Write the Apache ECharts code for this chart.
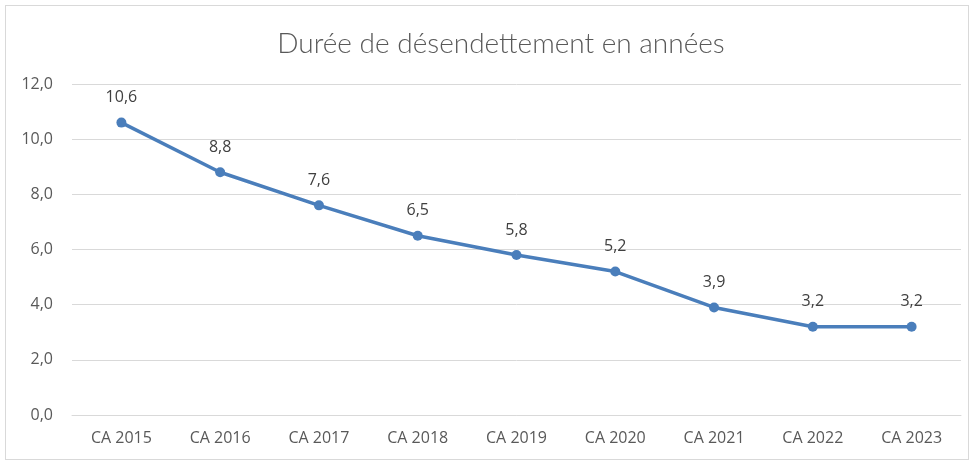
<!DOCTYPE html>
<html style="height: 100%;width: 100%">
<head>
    <meta charset="UTF-8">
    <script type="text/javascript" src="https://cdn.jsdelivr.net/npm/echarts@6/dist/echarts.min.js"></script>
    <title>Durée de désendettement</title>
    <style>
        body { margin: 0; background: #ffffff; }
        #main {
            position: absolute; left: 5px; top: 5px;
            width: 964px; height: 455px;
            border: 1px solid #d9d9d9; box-sizing: border-box;
        }
    </style>
</head>
<body>
<div id="main"></div>
<script type="text/javascript">
    // données
    var categories = ['CA 2015', 'CA 2016', 'CA 2017', 'CA 2018', 'CA 2019', 'CA 2020', 'CA 2021', 'CA 2022', 'CA 2023'];
    var durees = [10.6, 8.8, 7.6, 6.5, 5.8, 5.2, 3.9, 3.2, 3.2];
    var yTicks = [0, 2, 4, 6, 8, 10, 12];

    function virgule(v) {
        return v.toFixed(1).replace('.', ',');
    }

    var myChart = echarts.init(document.getElementById('main'));
    var option = {
        animation: false,
        title: {
            text: 'Durée de désendettement en années',
            left: 490,
            textAlign: 'center',
            top: 19,
            textStyle: {
                fontFamily: 'Lato',
                fontWeight: 300,
                fontSize: 28,
                color: '#595959'
            }
        },
        grid: { left: 66, right: 7, top: 78, bottom: 44 },
        xAxis: {
            type: 'category',
            data: categories,
            boundaryGap: true,
            axisLine: { lineStyle: { color: '#d9d9d9' } },
            axisTick: { show: false },
            axisLabel: { color: '#595959', fontSize: 16, fontFamily: 'Open Sans', margin: 15 }
        },
        yAxis: {
            type: 'value',
            min: yTicks[0],
            max: yTicks[yTicks.length - 1],
            interval: 2,
            axisLine: { show: false },
            axisTick: { show: false },
            splitLine: { lineStyle: { color: '#d9d9d9', width: 1 } },
            axisLabel: {
                color: '#595959', fontSize: 16, fontFamily: 'Open Sans', margin: 19,
                formatter: function (v) { return virgule(v); }
            }
        },
        series: [{
            name: 'Durée',
            type: 'line',
            data: durees,
            symbol: 'circle',
            symbolSize: 10,
            lineStyle: { color: '#4a7ebb', width: 3.5 },
            itemStyle: { color: '#4a7ebb' },
            label: {
                show: true,
                position: 'top',
                distance: 12,
                color: '#404040',
                fontSize: 16,
                fontFamily: 'Open Sans',
                formatter: function (p) { return virgule(p.value); }
            }
        }]
    };
    myChart.setOption(option);
</script>
</body>
</html>
